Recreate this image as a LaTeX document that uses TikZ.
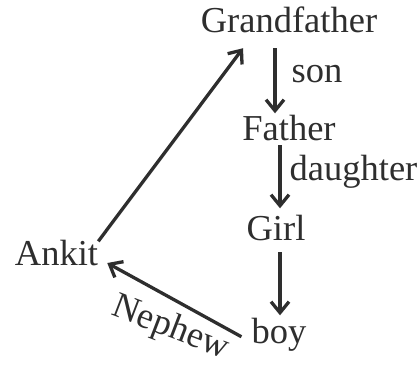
\documentclass[tikz,border=0pt]{standalone}
\usepackage{xcolor}
\usepackage{fontspec}
\setmainfont{Liberation Serif}
\usepackage{tikz}
\usetikzlibrary{positioning, arrows.meta, calc}

\definecolor{inkgray}{HTML}{2E2E2E}

\begin{document}
\begin{tikzpicture}[
    x=1pt, y=1pt,
    >={Straight Barb[length=11pt, width=18pt]},
    person/.style={
        inner sep=0pt, anchor=base,
        text height=25.5pt, text depth=9pt,
        font=\fontsize{36.5}{40}\selectfont, text=inkgray
    },
    arr/.style={line width=3.3pt, ->, draw=inkgray},
    lbl/.style={
        inner sep=0pt, text height=25.5pt, text depth=9pt,
        font=\fontsize{36.5}{40}\selectfont, text=inkgray
    },
]
\useasboundingbox (0,0) rectangle (419,-365);

% Family chain
\node[person] (gf) at (289,-32) {Grandfather};
\node[person] (fa) at (289,-140) {Father};
\node[person] (girl) at (276,-240) {Girl};
\node[person] (boy) at (279,-343) {boy};
\node[person] (ankit) at (56.5,-265) {Ankit};

% Downward relations
\draw[arr] ([xshift=-14pt, yshift=-7pt]gf.south) -- node[lbl, right=15pt, pos=0.4] {son} ([xshift=-14pt, yshift=1pt]fa.north);
\draw[arr] ([xshift=-9pt, yshift=-5pt]fa.base) -- node[lbl, right=8pt, pos=0.43] {daughter} ([xshift=4pt, yshift=6pt]girl.north);
\draw[arr] ([xshift=4pt, yshift=-3pt]girl.south) -- ([xshift=1pt, yshift=2pt]boy.north);

% Back to Ankit and up to Grandfather
\draw[arr, <-] ([xshift=9pt, yshift=2pt]ankit.base east) -- ([xshift=-10pt, yshift=-2pt]boy.west);
\node[lbl, rotate=-21] (neph) at (170,-329) {Nephew};
\draw[arr] ([yshift=-2pt]ankit.north east) -- ([xshift=-46pt, yshift=-7pt]gf.south);

\end{tikzpicture}
\end{document}
